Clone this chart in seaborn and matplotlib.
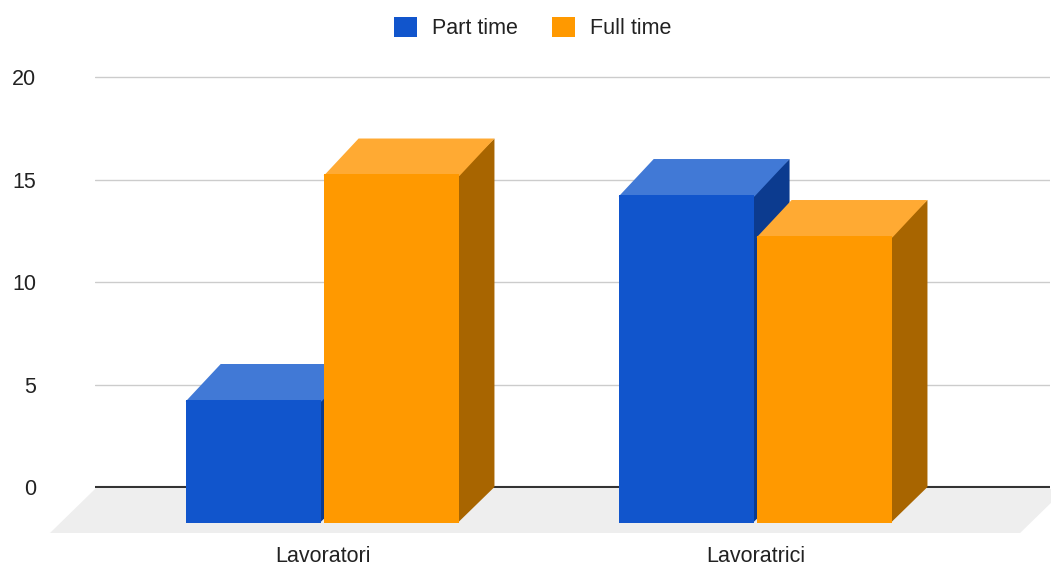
import pandas as pd
import matplotlib.pyplot as plt
import seaborn as sns
from matplotlib.patches import Polygon, Patch
from matplotlib.colors import to_hex

# dati
categorie = ["Lavoratori", "Lavoratrici"]
serie = ["Part time", "Full time"]
part_time = [6, 16]
full_time = [17, 14]
yticks = [0, 5, 10, 15, 20]

# colori facce: fronte, sopra, lato
colori = {"Part time": "#1155CC", "Full time": "#FF9900"}
colori_top = {"Part time": "#4179D6", "Full time": "#FFAA33"}
colori_lato = {"Part time": "#0C3B8F", "Full time": "#A86500"}

df = pd.DataFrame({
    "categoria": categorie * 2,
    "serie": [serie[0]] * len(categorie) + [serie[1]] * len(categorie),
    "valore": part_time + full_time,
})

sns.set_style("white")
plt.rcParams["font.family"] = ["Liberation Sans", "DejaVu Sans"]

W, H = 1051, 569
fig = plt.figure(figsize=(W / 100, H / 100), dpi=100)
ax = fig.add_axes([95 / W, 36 / H, 955 / W, 473 / H])

sns.barplot(data=df, x="categoria", y="valore", hue="serie", hue_order=serie,
            palette=colori, saturation=1, width=0.637, gap=0.015,
            legend=False, ax=ax, linewidth=0, edgecolor="none")

ax.set_xlim(-0.5254, 1.6801)
ax.set_ylim(-2.244, 20.83)

# profondita' 3D in unita' dati
prof_x, prof_y = 0.081, 1.75
eps_x, eps_y = 0.004, 0.08  # sovrapposizione per evitare fessure bianche

nome_da_colore = {to_hex(c): s for s, c in colori.items()}
for barra in list(ax.patches):
    nome = nome_da_colore[to_hex(barra.get_facecolor())]
    z = 3 + serie.index(nome)
    x0, w, h = barra.get_x(), barra.get_width(), barra.get_height()
    barra.set_y(-prof_y)
    barra.set_zorder(z)
    sopra = [(x0, h - prof_y - eps_y), (x0 + w, h - prof_y - eps_y),
             (x0 + w + prof_x, h), (x0 + prof_x, h)]
    lato = [(x0 + w - eps_x, h - prof_y), (x0 + w + prof_x, h),
            (x0 + w + prof_x, 0), (x0 + w - eps_x, -prof_y)]
    ax.add_patch(Polygon(lato, closed=True, facecolor=colori_lato[nome], edgecolor="none", zorder=z - 0.2))
    ax.add_patch(Polygon(sopra, closed=True, facecolor=colori_top[nome], edgecolor="none", zorder=z - 0.1))

# pavimento
xl, xr = ax.get_xlim()
yb = ax.get_ylim()[0]
off_pav = 0.104
pavimento = [(xl, -0.1), (xr + 0.035, -0.1), (xr + 0.035 - off_pav, yb), (xl - off_pav, yb)]
ax.add_patch(Polygon(pavimento, closed=True, facecolor="#EEEEEE", edgecolor="none",
                     zorder=1, clip_on=False))

# griglia
ax.set_yticks(yticks)
ax.set_axisbelow(True)
ax.yaxis.grid(True, color="#CCCCCC", linewidth=1)
ax.xaxis.grid(False)
ax.axhline(0, color="#333333", linewidth=1.5, zorder=2)

ax.set_xlabel("")
ax.set_ylabel("")
for s in ax.spines.values():
    s.set_visible(False)
ax.tick_params(axis="y", length=0, pad=42.5, labelsize=15.5, labelcolor="#222222")
ax.tick_params(axis="x", length=0, pad=9.4, labelsize=15.5, labelcolor="#222222")

handles = [Patch(facecolor=colori[s], edgecolor="none") for s in serie]
fig.legend(handles, serie, loc="center", bbox_to_anchor=(533 / W, 1 - 28 / H), ncol=2,
           frameon=False, fontsize=15.5, handlelength=1.05, handleheight=1.05,
           handletextpad=0.7, columnspacing=1.6, labelcolor="#222222")

fig.savefig("out.png", dpi=100)
